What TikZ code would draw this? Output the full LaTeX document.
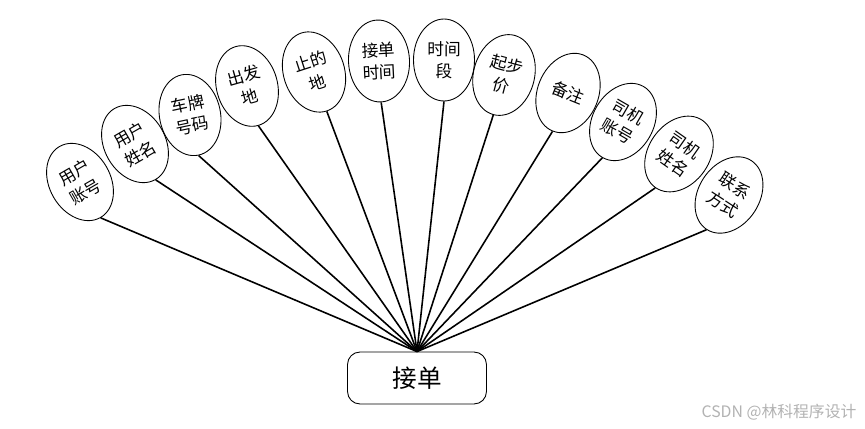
\documentclass[tikz,border=0pt]{standalone}
\usepackage{fontspec}
\setmainfont{Noto Sans CJK SC}
\usepackage{tikz}
\usetikzlibrary{shapes.geometric}

\begin{document}
\begin{tikzpicture}[
  x=0.02cm, y=-0.02cm,
  attr/.style={draw, ellipse, line width=0.5pt, minimum width=1.22cm, minimum height=1.64cm,
    inner sep=0pt, align=center, font=\fontsize{9.5}{12.5}\selectfont, rotate=#1},
  attr/.default=0,
  entity/.style={draw, rounded corners=0.25cm, line width=0.5pt, minimum width=2.78cm,
    minimum height=1.04cm, font=\fontsize{14}{14}\selectfont},
  link/.style={line width=0.9pt},
]
  \useasboundingbox (0,0) rectangle (865,429);

  \node[entity] (order) at (417,378) {接单};

  \node[attr=30]  (uacc)   at (80,182)  {用户\\账号};
  \node[attr=30]  (uname)  at (135,144) {用户\\姓名};
  \node[attr=12]  (plate)  at (190,115) {车牌\\号码};
  \node[attr=16]  (start)  at (247,86)  {出发\\地};
  \node[attr=18]  (dest)   at (314,72)  {止的\\地};
  \node[attr=3]   (otime)  at (379,61)  {接单\\时间};
  \node[attr]     (period) at (444,60)  {时间\\段};
  \node[attr=-15] (price)  at (504,75)  {起步\\价};
  \node[attr=-22] (note)   at (568,93)  {备注};
  \node[attr=-30] (dacc)   at (623,122) {司机\\账号};
  \node[attr=-35] (dname)  at (679,154) {司机\\姓名};
  \node[attr=-33] (phone)  at (729,195) {联系\\方式};

  \draw[link] (order.north) -- (uacc.south);
  \draw[link] (order.north) -- (uname.south);
  \draw[link] (order.north) -- (plate.south);
  \draw[link] (order.north) -- (start.south);
  \draw[link] (order.north) -- (dest.south);
  \draw[link] (order.north) -- (otime.south);
  \draw[link] (order.north) -- (period.south);
  \draw[link] (order.north) -- (price.south);
  \draw[link] (order.north) -- (note.south);
  \draw[link] (order.north) -- (dacc.south);
  \draw[link] (order.north) -- (dname.south);
  \draw[link] (order.north) -- (phone.south);

  \node[text=black!30, font=\fontsize{9}{9}\selectfont] (mark) at (779,412) {CSDN @林科程序设计};
\end{tikzpicture}
\end{document}
